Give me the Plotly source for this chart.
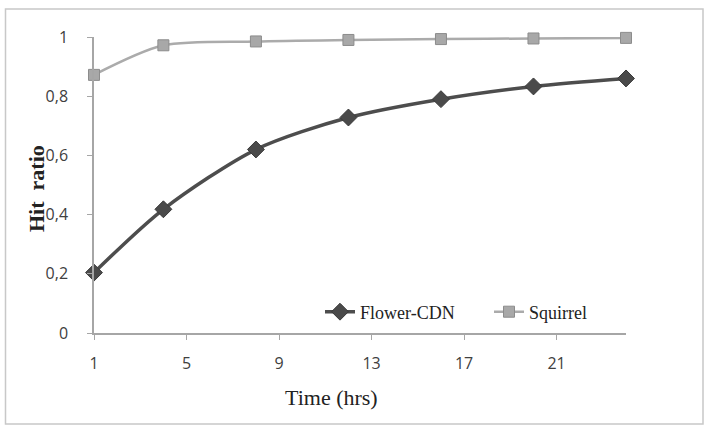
import plotly.graph_objects as go

hours = [1, 4, 8, 12, 16, 20, 24]
flower_cdn = [0.204, 0.418, 0.62, 0.728, 0.79, 0.833, 0.86]
squirrel = [0.872, 0.972, 0.985, 0.99, 0.993, 0.995, 0.997]
x_ticks = [1, 5, 9, 13, 17, 21]
y_ticks = [0, 0.2, 0.4, 0.6, 0.8, 1]

W, H = 708, 427
L, R, T, B = 94, 82, 37, 94
pw, ph = W - L - R, H - T - B

def px_to_paper_x(px):
    return (px - L) / pw

def px_to_paper_y(py):
    return (H - B - py) / ph

fig = go.Figure()
fig.add_trace(go.Scatter(
    x=hours, y=flower_cdn, name="Flower-CDN", mode="lines+markers",
    line=dict(color="#4d4d4d", width=3.5, shape="spline", smoothing=0.8),
    marker=dict(symbol="diamond", size=13, color="#4a4a4a", line=dict(color="#3a3a3a", width=1)),
    cliponaxis=False,
))
fig.add_trace(go.Scatter(
    x=hours, y=squirrel, name="Squirrel", mode="lines+markers",
    line=dict(color="#ababab", width=2.5, shape="spline", smoothing=0.8),
    marker=dict(symbol="square", size=11, color="#a8a8a8", line=dict(color="#8c8c8c", width=1)),
    cliponaxis=False,
))

axis_font = dict(family="Open Sans", size=16, color="#404040")
fig.update_xaxes(
    range=[1, 24], tickvals=x_ticks, ticktext=[str(v) for v in x_ticks],
    showline=True, linecolor="#a6a6a6", linewidth=1.5, ticks="outside", ticklen=5,
    tickcolor="#a6a6a6", showgrid=False, zeroline=False, tickfont=axis_font,
    ticklabelstandoff=10,
)
fig.update_yaxes(
    range=[0, 1], tickvals=y_ticks, tickformat=".1~f",
    showline=True, linecolor="#a6a6a6", linewidth=1.5, ticks="outside", ticklen=5,
    tickcolor="#a6a6a6", showgrid=False, zeroline=False, tickfont=axis_font,
    ticklabelstandoff=16,
)

serif = "Liberation Serif, Times New Roman, serif"
fig.update_layout(
    width=W, height=H, margin=dict(l=L, r=R, t=T, b=B),
    paper_bgcolor="white", plot_bgcolor="white", separators=", ",
    showlegend=True,
    legend=dict(orientation="h", x=px_to_paper_x(320), y=px_to_paper_y(312),
                xanchor="left", yanchor="middle", bgcolor="rgba(0,0,0,0)",
                font=dict(family=serif, size=18, color="#222222"),
                itemwidth=30, tracegroupgap=0, entrywidth=124),
    annotations=[
        dict(text="<b>Hit  ratio</b>", textangle=-90, xref="paper", yref="paper",
             x=px_to_paper_x(36), y=px_to_paper_y(189), showarrow=False,
             xanchor="center", yanchor="middle",
             font=dict(family=serif, size=22, color="#222222")),
        dict(text="Time (hrs)", xref="paper", yref="paper",
             x=px_to_paper_x(331), y=px_to_paper_y(397), showarrow=False,
             xanchor="center", yanchor="middle",
             font=dict(family=serif, size=22, color="#222222")),
    ],
    shapes=[dict(type="rect", xref="paper", yref="paper",
                 x0=px_to_paper_x(5.5), x1=px_to_paper_x(703),
                 y0=px_to_paper_y(424), y1=px_to_paper_y(9),
                 line=dict(color="#c8c8c8", width=1.5), layer="below")],
)

fig.write_html("out.html")
